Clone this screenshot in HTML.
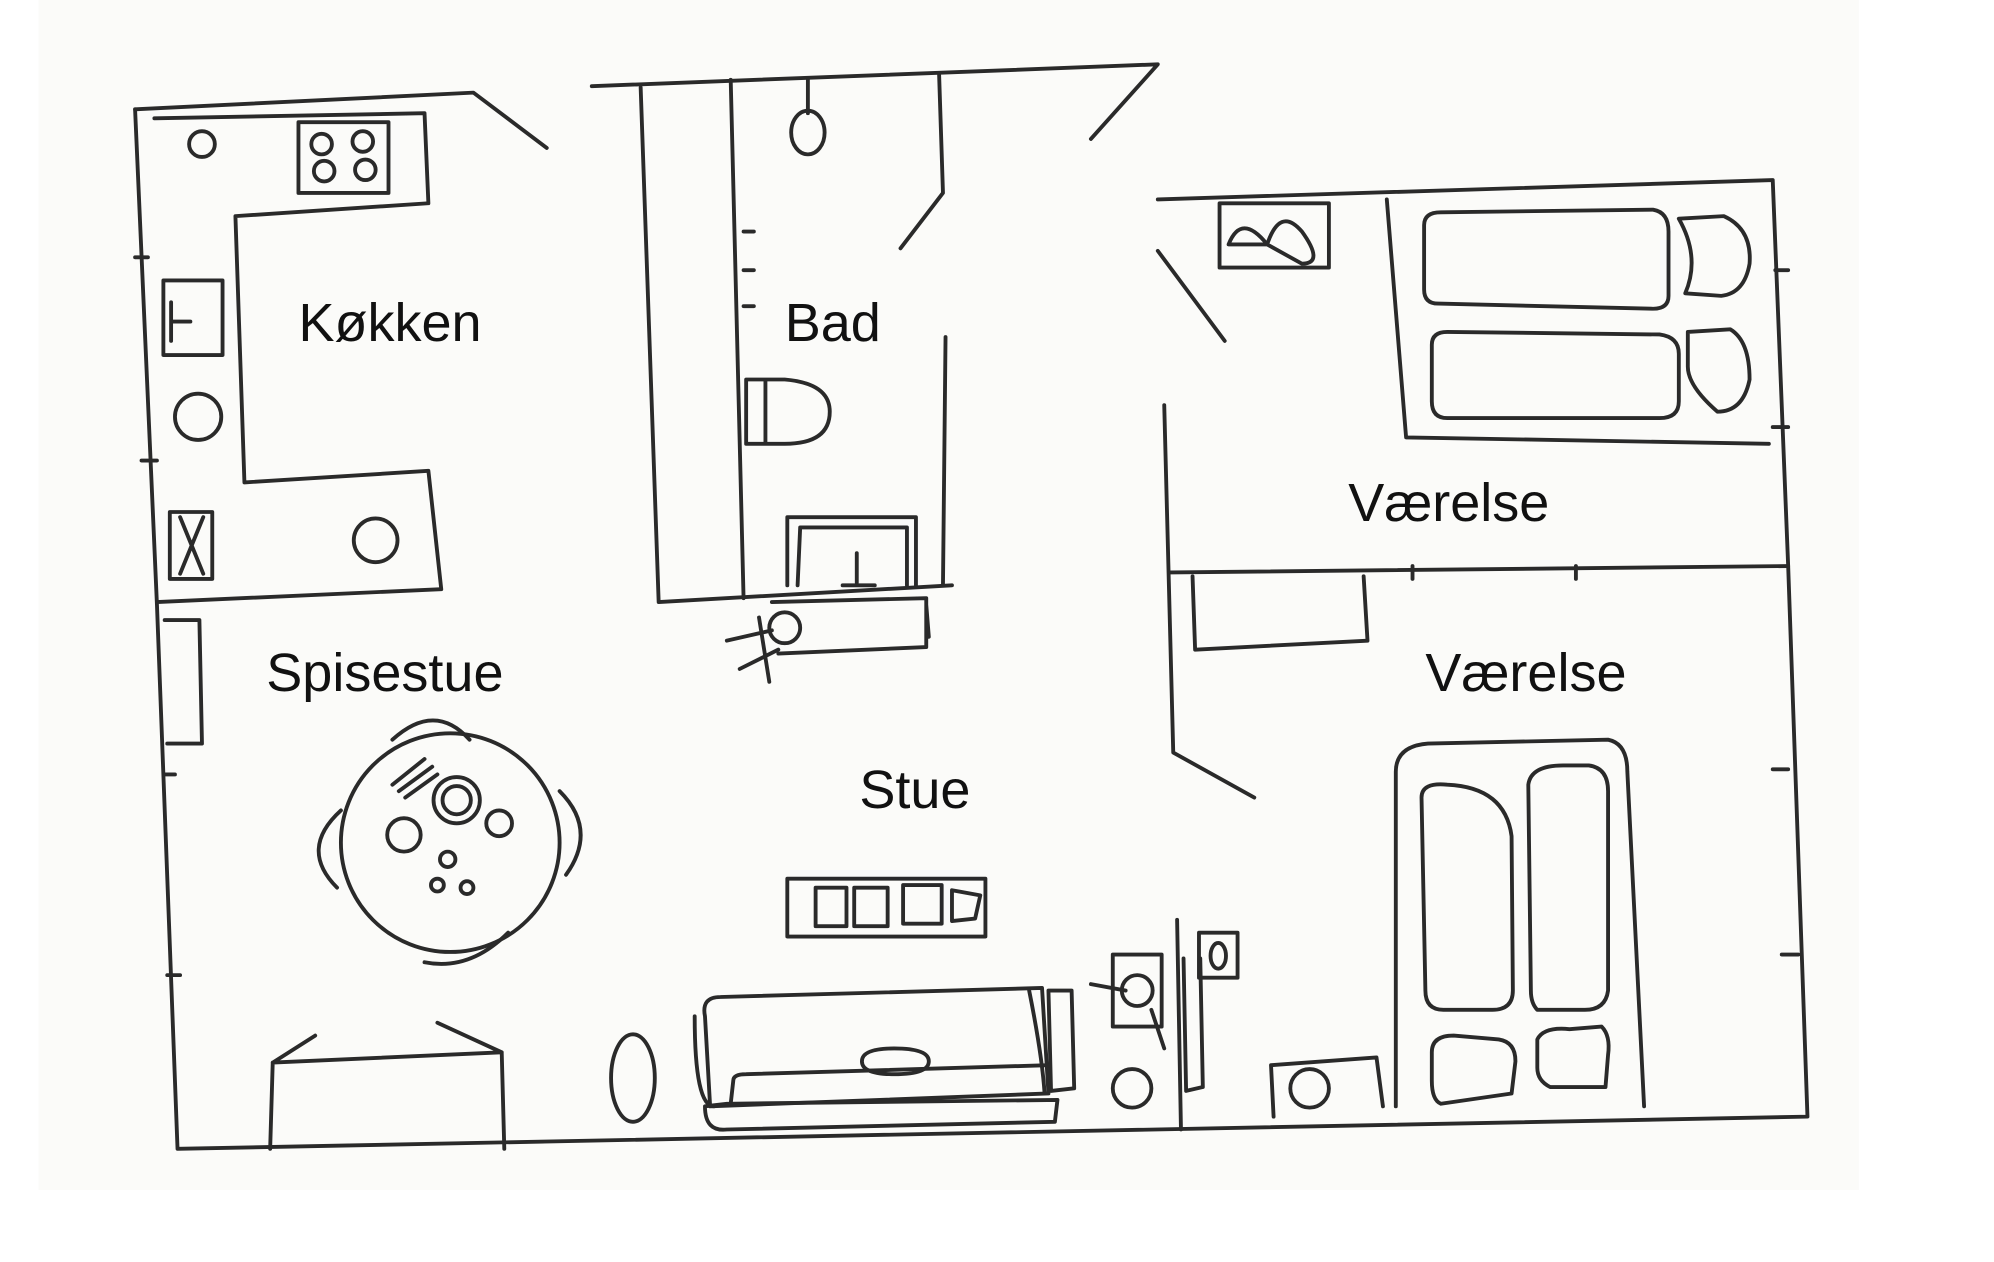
<!DOCTYPE html>
<html><head><meta charset="utf-8"><style>
html,body{margin:0;padding:0;background:#fff;width:1994px;height:1262px;overflow:hidden}
svg{display:block}
text{font-family:"Liberation Sans",sans-serif;font-size:42px;fill:#111}
</style></head><body>
<svg width="1994" height="1262" viewBox="0 0 1550 981" preserveAspectRatio="none">
<rect x="0" y="0" width="1550" height="981" fill="#fff"/>
<rect x="30" y="0" width="1415" height="925" fill="#fbfbf9"/>
<g fill="none" stroke="#2a2a2a" stroke-width="3" stroke-linecap="round" stroke-linejoin="round">
<!-- outer walls -->
<path d="M105,85 L368,72 L425,115"/>
<path d="M105,85 L122,470 L138,893 L1405,868 L1390,440 L1378,140 L900,155"/>
<!-- kitchen counter -->
<path d="M120,92 L330,88 L333,158 L183,168 L190,375 L333,366 L343,458 L122,468"/>
<rect x="232" y="95" width="70" height="55"/>
<circle cx="250" cy="112" r="8"/><circle cx="282" cy="110" r="8"/>
<circle cx="252" cy="133" r="8"/><circle cx="284" cy="132" r="8"/>
<circle cx="157" cy="112" r="10"/>
<rect x="127" y="218" width="46" height="58"/><path d="M133,235 L133,265 M133,250 L148,250"/>
<circle cx="154" cy="324" r="18"/>
<rect x="132" y="398" width="33" height="52"/><path d="M140,402 L158,446 M158,402 L140,446"/>
<circle cx="292" cy="420" r="17"/>
<!-- spisestue -->
<path d="M128,482 L155,482 L157,578 L130,578"/>
<circle cx="350" cy="655" r="85"/>
<path d="M305,575 Q338,545 365,575 M265,630 Q232,660 262,690 M435,615 Q465,645 440,680 M330,748 Q365,755 395,725"/>
<circle cx="355" cy="622" r="18"/><circle cx="355" cy="622" r="11"/>
<circle cx="314" cy="649" r="13"/><circle cx="388" cy="640" r="10"/>
<circle cx="348" cy="668" r="6"/><circle cx="340" cy="688" r="5"/><circle cx="363" cy="690" r="5"/>
<path d="M305,610 L330,590 M310,615 L336,596 M315,620 L340,602"/>
<path d="M210,893 L212,826 L390,818 L392,893 M212,826 L245,805 M390,818 L340,795"/>
<!-- bath -->
<path d="M460,67 L900,50 L848,108"/>
<path d="M498,68 L512,468 L740,455"/>
<path d="M568,62 L578,465"/>
<path d="M730,58 L733,150 L700,193"/>
<path d="M735,262 L733,455"/>
<path d="M628,62 L628,88"/><ellipse cx="628" cy="103" rx="13" ry="17"/>
<path d="M578,180 L586,180 M578,210 L586,210 M578,238 L586,238"/>
<path d="M580,295 L610,295 Q645,298 645,320 Q645,345 610,345 L580,345 Z M595,295 L595,345"/>
<path d="M612,455 L612,402 L712,402 L712,455 M620,455 L622,410 L705,410 L705,455 M666,430 L666,453 M655,455 L680,455"/>
<!-- stue items -->
<path d="M600,468 L720,465 L720,503 L605,508 M720,470 L722,495"/>
<circle cx="610" cy="488" r="12"/><path d="M565,498 L600,490 M590,480 L598,530 M575,520 L605,505"/>
<rect x="612" y="683" width="154" height="45"/>
<rect x="634" y="690" width="24" height="30"/><rect x="664" y="690" width="26" height="30"/>
<rect x="702" y="688" width="30" height="30"/><path d="M740,692 L762,696 L758,714 L740,716 Z"/>
<path d="M552,860 L548,790 Q545,775 560,775 L810,768 L815,850 Z"/>
<path d="M548,860 Q548,880 565,878 L820,872 L822,855 L565,858 Z"/>
<path d="M540,790 Q540,860 555,860 M800,770 Q810,820 812,850"/>
<path d="M815,770 L833,770 L835,846 L817,848 Z"/>
<path d="M568,858 L570,840 Q570,835 580,835 L815,828"/>
<path d="M670,825 Q670,815 695,815 Q722,815 722,825 Q722,835 695,835 Q670,835 670,825 Z"/>
<ellipse cx="492" cy="838" rx="17" ry="34"/>
<rect x="865" y="742" width="38" height="56"/><circle cx="884" cy="770" r="12"/>
<path d="M848,765 L875,770 M895,785 L905,815"/>
<circle cx="880" cy="846" r="15"/>
<path d="M915,715 L918,878 M920,745 L922,848 L935,845 L933,745"/>
<rect x="932" y="725" width="30" height="35"/><ellipse cx="947" cy="743" rx="6" ry="10"/>
<!-- right rooms -->
<path d="M900,195 L952,265"/>
<path d="M905,315 L912,585 L975,620"/>
<path d="M910,445 L1390,440"/>
<path d="M1078,155 L1093,340 L1375,345"/>
<rect x="948" y="158" width="85" height="50"/>
<path d="M955,190 Q965,165 985,190 Z M985,190 Q995,160 1012,180 Q1030,205 1012,205 Z"/>
<path d="M1107,175 Q1107,165 1120,165 L1285,163 Q1297,165 1297,180 L1297,230 Q1297,240 1285,240 L1118,236 Q1107,236 1107,225 Z"/>
<path d="M1113,268 Q1113,258 1125,258 L1290,260 Q1305,262 1305,275 L1305,312 Q1305,325 1290,325 L1125,325 Q1113,325 1113,312 Z"/>
<path d="M1305,170 L1340,168 Q1362,178 1360,205 Q1356,228 1338,230 L1310,228 Q1322,200 1305,170 Z"/>
<path d="M1312,258 L1345,256 Q1360,265 1360,295 Q1355,320 1335,320 Q1312,300 1312,285 Z"/>
<path d="M1390,210 L1380,210 M1390,332 L1378,332 M1098,440 L1098,450 M1225,440 L1225,450"/>
<path d="M927,448 L929,505 L1063,498 L1060,448"/>
<path d="M1085,860 L1085,600 Q1085,580 1110,578 L1250,575 Q1265,578 1265,600 L1278,860"/>
<path d="M1105,620 Q1105,608 1125,610 Q1170,612 1175,650 L1176,770 Q1176,785 1160,785 L1122,785 Q1108,785 1108,770 Z"/>
<path d="M1188,610 Q1190,595 1215,595 L1235,595 Q1250,597 1250,615 L1250,770 Q1248,785 1232,785 L1195,785 Q1190,780 1190,770 Z"/>
<path d="M1113,818 Q1113,805 1130,805 L1165,808 Q1178,810 1178,825 L1175,850 L1120,858 Q1113,855 1113,840 Z"/>
<path d="M1195,808 Q1200,798 1220,800 L1245,798 Q1252,805 1250,820 L1248,845 L1205,845 Q1195,840 1195,830 Z"/>
<path d="M990,868 L988,828 L1070,822 L1075,860"/><circle cx="1018" cy="846" r="15"/>
<path d="M1390,598 L1378,598 M1398,742 L1385,742 M128,602 L136,602 M130,758 L140,758 M105,200 L115,200 M110,358 L122,358"/>
</g>
<text x="232" y="265">Køkken</text>
<text x="610" y="265">Bad</text>
<text x="1048" y="405">Værelse</text>
<text x="1108" y="537">Værelse</text>
<text x="207" y="537">Spisestue</text>
<text x="668" y="628">Stue</text>
</svg>
</body></html>
